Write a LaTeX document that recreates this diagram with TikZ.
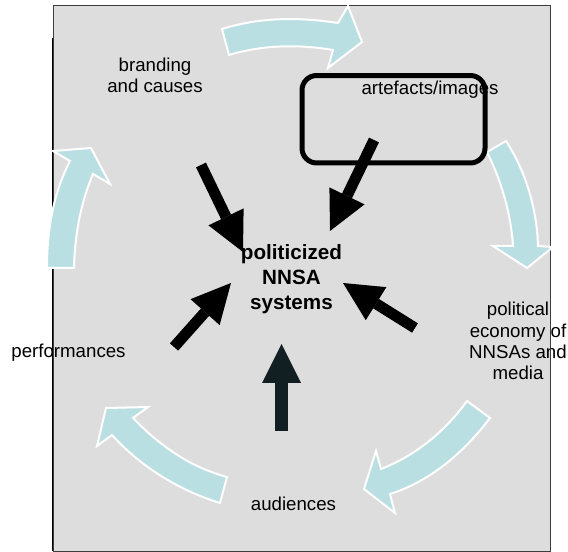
\documentclass[tikz,border=0pt]{standalone}
\usepackage{fontspec}
\setmainfont{Liberation Sans}
\usetikzlibrary{arrows.meta}
\definecolor{bgray}{RGB}{221,221,221}
\definecolor{ablue}{RGB}{186,223,227}
\definecolor{dteal}{RGB}{17,30,34}
\definecolor{edge}{RGB}{60,60,60}
\begin{document}
\begin{tikzpicture}[x=0.75pt,y=-0.75pt,
  lbl/.style={align=center, font=\fontsize{14}{16}\selectfont, inner sep=0pt},
  ctr/.style={align=center, font=\bfseries\fontsize{15.5}{18.75}\selectfont, inner sep=0pt},
  cyc/.style={fill=ablue, draw=white, line width=1.5pt, line join=miter},
  blk/.style={line width=8.25pt, line cap=butt,
    -{Triangle[length=29.25pt 0, width=29.25pt 0, line width=0pt]}},
  ]
\useasboundingbox (0,0) rectangle (568,552);
% background panel
\fill[bgray] (53,6) rectangle (550,551);
% labels
\node[lbl] (brand) at (155,75.5) {branding\\and causes};
\node[lbl] (arte) at (430,90) {artefacts/images};
\node[lbl] (perf) at (68.5,352.5) {performances};
\node[lbl] (aud) at (293.5,504) {audiences};
\node[lbl] (polec) at (518,341) {political\\economy of\\NNSAs and\\media};
\node[ctr] (sys) at (291.5,279) {politicized\\NNSA\\systems};
% panel border
\draw[edge, line width=0.75pt] (53,6) rectangle (550,551);
\draw[black, line width=0.6pt] (52.4,38) -- (52.4,551);
% cycle arrows
\path[cyc] (222,29) .. controls (260,17) and (300,17) .. (338,23) -- (348,6) -- (362,42)
  -- (328,68) -- (333,50) .. controls (298,44) and (262,45) .. (229,55) -- cycle;
\path[cyc] (506,141) .. controls (525,170) and (537,208) .. (538,246) -- (553,247)
  -- (527,268) -- (493,246) -- (513,246) .. controls (511,212) and (500,178) .. (487,152) -- cycle;
\path[cyc] (467,401) -- (490,418) .. controls (462,455) and (428,482) .. (390,494)
  -- (395,513) -- (364,489) -- (376,451) -- (381,469) .. controls (417,455) and (446,430) .. (467,401) -- cycle;
\path[cyc] (133,418) .. controls (160,446) and (190,467) .. (227,477) -- (220,503)
  .. controls (178,490) and (140,466) .. (112,435) -- (97,446) -- (106,408) -- (148,407) -- cycle;
\path[cyc] (47,268) .. controls (47,225) and (55,190) .. (70,161) -- (53,151) -- (91,148)
  -- (110,184) -- (93,174) .. controls (82,200) and (75,230) .. (74,268) -- cycle;
% image box
\node[draw=black, line width=3.75pt, rounded corners=11pt, minimum width=137.25pt,
  minimum height=65.6pt, inner sep=0pt] (imgbox) at (393.5,119.25) {};
% black arrows into the centre
\coordinate (ta) at (201,165); \coordinate (ha) at (243,252);
\coordinate (tb) at (374,140); \coordinate (hb) at (330,231);
\coordinate (tc) at (174,347); \coordinate (hc) at (231,283);
\coordinate (td) at (415,328); \coordinate (hd) at (343,283);
\coordinate (te) at (281.5,431); \coordinate (he) at (281.5,344);
\draw[blk] (ta) -- (ha);
\draw[blk] (tb) -- (hb);
\draw[blk] (tc) -- (hc);
\draw[blk] (td) -- (hd);
\draw[blk, dteal, line width=9.75pt] (te) -- (he);
\end{tikzpicture}
\end{document}
